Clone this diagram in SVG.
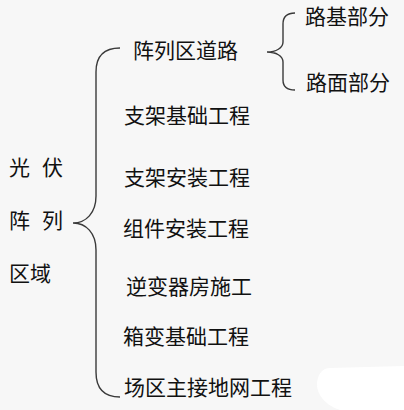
<svg xmlns="http://www.w3.org/2000/svg" width="404" height="410" viewBox="0 0 404 410">
<style>
.t{font-family:"Noto Sans CJK SC","Noto Sans",sans-serif;font-size:21px;fill:#111}
.b{fill:none;stroke:#3a3a3a;stroke-width:1.4}
</style>
<rect width="404" height="410" fill="#f7f7f7"/>
<path d="M330,368 L404,366 L404,410 L340,410 C322,404 314,390 318,378 C320,371 325,368 330,368 Z" fill="#ffffff"/>
<g id="connectors">
<path class="b" d="M120,48 C104,48 96,56 96,72 L96,196 C96,213 86,223 73,223 C86,223 96,233 96,250 L96,372 C96,388 104,397 120,397"/>
<path class="b" d="M295,13 C287,13 283,17 283,24 L283,42 C283,48 276,52 267,52 C276,52 283,56 283,62 L283,80 C283,87 287,90 295,90"/>
</g>
<g id="root">
<text class="t" x="9" y="175">光</text><text class="t" x="42" y="175">伏</text>
<text class="t" x="9" y="228">阵</text><text class="t" x="42" y="228">列</text>
<text class="t" x="9" y="281">区域</text>
</g>
<g id="n1"><text class="t" x="133" y="58">阵列区道路</text></g>
<g id="n1a"><text class="t" x="305" y="24">路基部分</text></g>
<g id="n1b"><text class="t" x="306" y="90">路面部分</text></g>
<g id="n2"><text class="t" x="124" y="123">支架基础工程</text></g>
<g id="n3"><text class="t" x="124" y="185">支架安装工程</text></g>
<g id="n4"><text class="t" x="123" y="236">组件安装工程</text></g>
<g id="n5"><text class="t" x="126" y="294">逆变器房施工</text></g>
<g id="n6"><text class="t" x="123" y="344">箱变基础工程</text></g>
<g id="n7"><text class="t" x="124" y="395">场区主接地网工程</text></g>
</svg>
